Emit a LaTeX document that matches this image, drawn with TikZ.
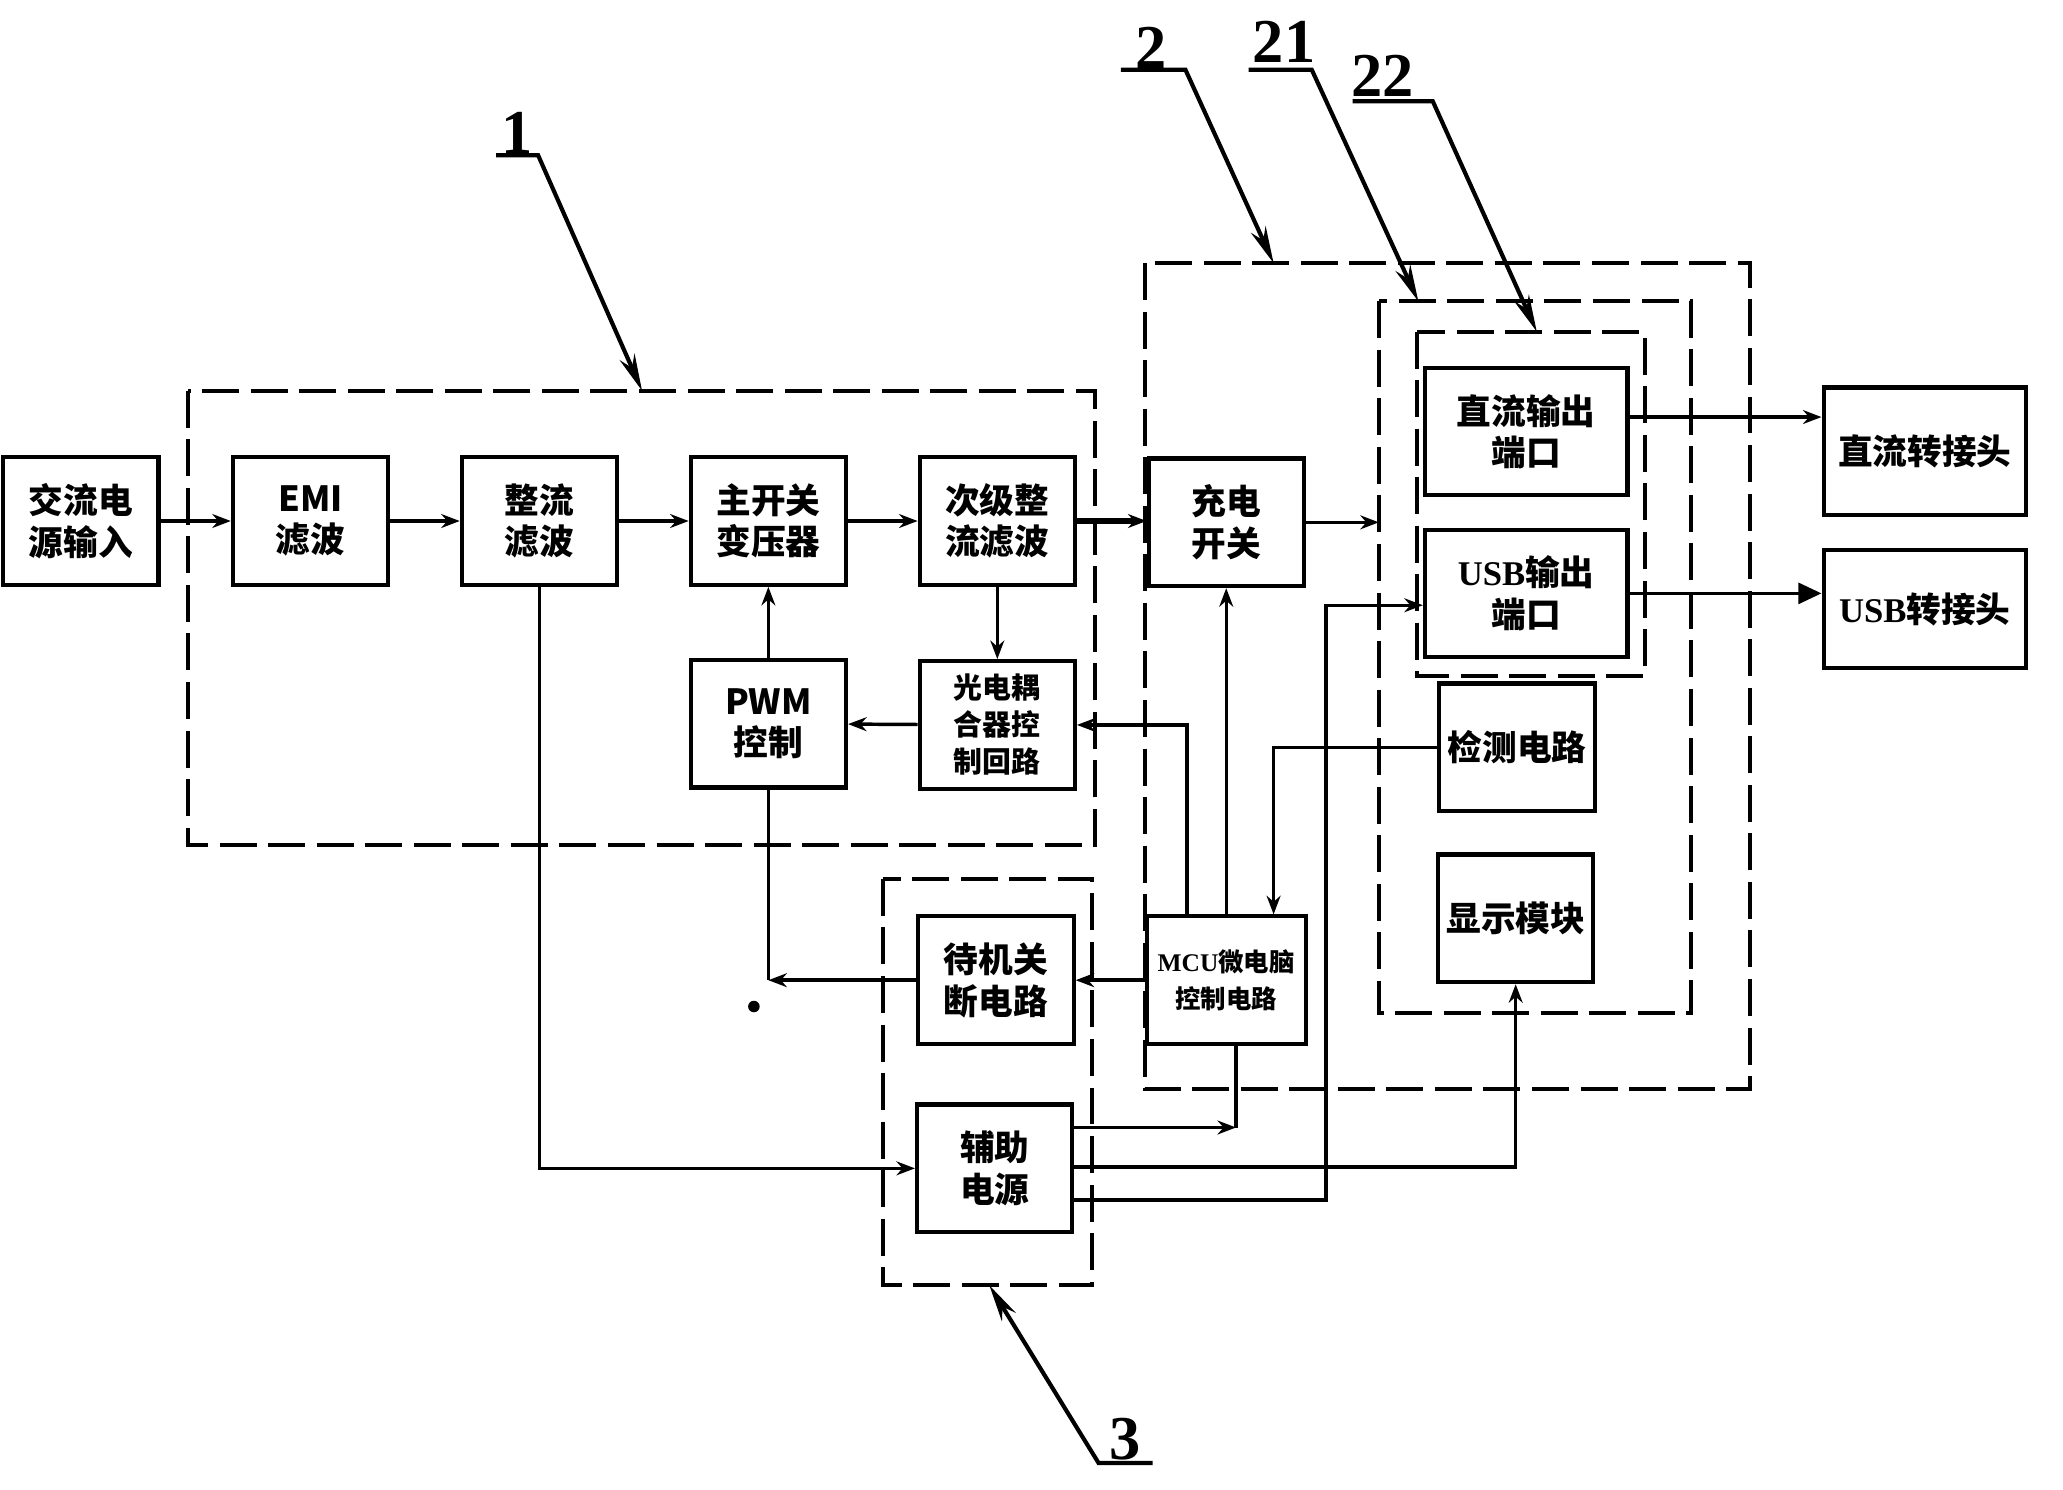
\documentclass[tikz,border=0pt]{standalone}
\usepackage{fontspec}
\setmainfont{Noto Sans CJK SC}
\newfontfamily\serifnum{Liberation Serif}
\usetikzlibrary{arrows.meta,calc}
\begin{document}
\begin{tikzpicture}[x=0.02cm,y=-0.02cm,
  blk/.style={draw,line width=1.8pt,inner sep=0pt,align=center,
    font=\fontsize{15}{18}\selectfont\bfseries,
    minimum width=2.36cm,minimum height=1.94cm},
  wide/.style={minimum width=3.08cm},
  con/.style={line width=1.5pt,-{Stealth[length=8pt,width=6pt]}},
  bigcon/.style={line width=1.5pt,-{Triangle[length=10pt,width=9pt]}},
  wire/.style={line width=1.5pt},
  dbox/.style={line width=1.7pt,dash pattern=on 16pt off 5pt},
  lead/.style={line width=1.8pt,-{Stealth[length=16pt,width=7pt]}},
  lab/.style={font=\serifnum\fontsize{27}{27}\selectfont\bfseries,inner sep=0pt}]
\fill[white] (0,0) rectangle (1568,1132);
\useasboundingbox (0,0) rectangle (1568,1132);

% dashed groups
\draw[dbox] (143,297) rectangle (832,642);
\draw[dbox] (870,200) rectangle (1330,828);
\draw[dbox] (1048,229) rectangle (1285,770);
\draw[dbox] (1077,252) rectangle (1250,514);
\draw[dbox] (671,668) rectangle (830,977);

% blocks
\node[blk] (ac) at (61.5,396) {交流电\\源输入};
\node[blk] (emi) at (236,396) {EMI\\滤波};
\node[blk] (rect) at (410,396) {整流\\滤波};
\node[blk] (main) at (584,396) {主开关\\变压器};
\node[blk] (sec) at (758,396) {次级整\\流滤波};
\node[blk] (chg) at (932,397) {充电\\开关};
\node[blk] (pwm) at (584,550) {PWM\\控制};
\node[blk,font=\fontsize{12.5}{16}\selectfont\bfseries] (opto) at (758,551) {光电耦\\合器控\\制回路};
\node[blk,wide] (dcport) at (1160,328) {直流输出\\端口};
\node[blk,wide] (usbport) at (1160,451) {{\serifnum USB}输出\\端口};
\node[blk] (det) at (1153,568) {检测电路};
\node[blk] (disp) at (1152,698) {显示模块};
\node[blk,wide] (dcad) at (1463,343) {直流转接头};
\node[blk,wide,minimum height=1.8cm] (usbad) at (1463,463) {{\serifnum USB}转接头};
\node[blk] (stby) at (757,745) {待机关\\断电路};
\node[blk,minimum width=2.42cm,font=\fontsize{11}{16}\selectfont\bfseries] (mcu) at (932,745) {{\serifnum MCU}微电脑\\控制电路};
\node[blk] (aux) at (756,888) {辅助\\电源};

% helper coordinates
\coordinate (b21w) at (1048,397);
\coordinate (v1) at (1008,0);
\coordinate (m1) at ($(mcu.north west)!0.26!(mcu.north east)$);
\coordinate (m3) at ($(mcu.north west)!0.79!(mcu.north east)$);
\coordinate (m2) at ($(mcu.south west)!0.56!(mcu.south east)$);
\coordinate (a1) at ($(aux.north east)!0.19!(aux.south east)$);
\coordinate (a2) at ($(aux.north east)!0.49!(aux.south east)$);
\coordinate (a3) at ($(aux.north east)!0.74!(aux.south east)$);
\coordinate (u1) at ($(usbport.north west)!0.59!(usbport.south west)$);
\coordinate (d1) at ($(dcport.north east)!0.39!(dcport.south east)$);
\coordinate (c1) at (stby.west -| pwm.south);
\coordinate (c2) at (a1 -| m2);

% connectors
\draw[con] (ac) -- (emi);
\draw[con] (emi) -- (rect);
\draw[con] (rect) -- (main);
\draw[con] (main) -- (sec);
\draw[con,line width=2.2pt] (sec.east) -- (sec.east -| chg.west);
\draw[con] (chg) -- (b21w);
\draw[con] (pwm) -- (main);
\draw[con] (sec) -- (opto);
\draw[con] (opto) -- (pwm);
\draw[con] (m1) |- (opto.east);
\draw[con] (mcu) -- (chg);
\draw[con] (det.west) -| (m3);
\draw[con] (mcu) -- (stby);
\draw[con] (stby.west) -- (c1);
\draw[wire] (c1) -- (pwm.south);
\draw[con] (a1) -- (c2);
\draw[wire] (m2) -- (c2);
\draw[con] (a2) -| (disp.south);
\draw[con] (a3) -| (v1 |- u1) -- (u1);
\draw[con] (rect.south) |- (aux.west);
\draw[con] (d1) -- (d1 -| dcad.west);
\draw[bigcon] (usbport.east) -- (usbport.east -| usbad.west);

% reference labels
\node[lab] (l1) at (393,101) {1};
\draw[lead] (377,118) -- (409,118) -- (488,297);
\node[lab] (l2) at (875,36) {2};
\draw[lead] (852,53) -- (901,53) -- (968,200);
\node[lab] (l21) at (976,32) {21};
\draw[lead] (949,53) -- (997,53) -- (1078,229);
\node[lab] (l22) at (1051,58) {22};
\draw[lead] (1028,77) -- (1089,77) -- (1168,252);
\node[lab] (l3) at (855,1094) {3};
\draw[lead] (876,1112) -- (835,1112) -- (752,977);

\fill (573,765) circle (2.5pt);
\end{tikzpicture}
\end{document}
